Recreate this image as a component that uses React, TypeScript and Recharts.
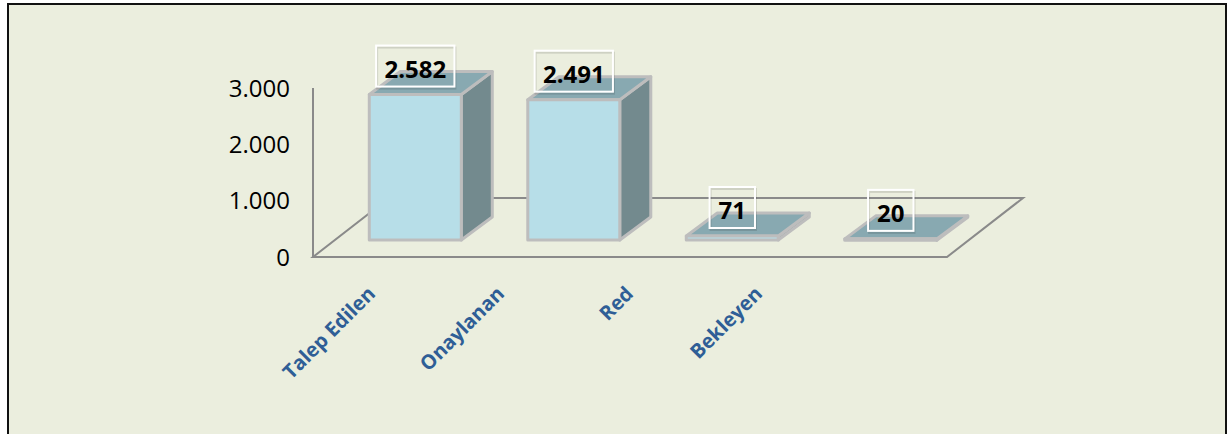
import { BarChart, Bar, XAxis, YAxis, ReferenceArea, LabelList } from "recharts";

// Veriler
const categories = ["Talep Edilen", "Onaylanan", "Red", "Bekleyen"];
const values = [2582, 2491, 71, 20];
const yTicks = [0, 1000, 2000, 3000];

const data = categories.map((name, i) => ({ name, value: values[i] }));

// 3B görünüm için derinlik (zemin) ve çubuk kaydırmaları
const FLOOR_DX = 76;
const FLOOR_DY = 59;
const BAR_OX = 23;
const BAR_OY = 17;
const BAR_DX = 31;
const BAR_DY = 23;

const fmt = (v: number) => String(v).replace(/\B(?=(\d{3})+(?!\d))/g, ".");

function Floor(props: any) {
  const { x, y, width, height } = props;
  const b = y + height;
  const pts = [
    [x, b],
    [x + width, b],
    [x + width + FLOOR_DX, b - FLOOR_DY],
    [x + FLOOR_DX, b - FLOOR_DY],
  ];
  return (
    <polygon
      points={pts.map((p) => p.join(",")).join(" ")}
      fill="none"
      stroke="#8a8a8a"
      strokeWidth={2}
    />
  );
}

function Box3D(props: any) {
  const { x, y, width, height } = props;
  const fx = x + BAR_OX;
  const fy = y - BAR_OY;
  const h = Math.max(height, 1.5);
  const w = width;
  const top = [
    [fx, fy],
    [fx + BAR_DX, fy - BAR_DY],
    [fx + w + BAR_DX, fy - BAR_DY],
    [fx + w, fy],
  ];
  const side = [
    [fx + w, fy],
    [fx + w + BAR_DX, fy - BAR_DY],
    [fx + w + BAR_DX, fy + h - BAR_DY],
    [fx + w, fy + h],
  ];
  const pts = (a: number[][]) => a.map((p) => p.join(",")).join(" ");
  return (
    <g stroke="#bdbdbd" strokeWidth={3} strokeLinejoin="round">
      <polygon points={pts(side)} fill="#738a8e" />
      <polygon points={pts(top)} fill="#88a9b1" />
      <rect x={fx} y={fy} width={w} height={h} fill="#b7dee8" />
    </g>
  );
}

function ValueLabel(props: any) {
  const { x, y, width, value } = props;
  const txt = fmt(Number(value));
  let tw = 0;
  for (const c of txt) tw += c === "." ? 6.5 : 13.2;
  const bw = tw + 19;
  const bh = 41;
  const cx = x + BAR_OX + width / 2;
  const bottom = y - BAR_OY - 8;
  return (
    <g>
      <rect x={cx - bw / 2 + 1} y={bottom - bh + 2} width={bw} height={bh} fill="none" stroke="rgba(0,0,0,0.12)" strokeWidth={2} />
      <rect x={cx - bw / 2} y={bottom - bh} width={bw} height={bh} fill="none" stroke="#ffffff" strokeWidth={2} />
      <text
        x={cx}
        y={bottom - bh / 2 + 2}
        textAnchor="middle"
        dominantBaseline="central"
        fontFamily="'Open Sans', sans-serif"
        fontWeight="bold"
        fontSize={24}
        fill="#000"
      >
        {txt}
      </text>
    </g>
  );
}

function CatTick(props: any) {
  const { x, y, payload } = props;
  const tx = x - 1;
  const ty = y + 38;
  return (
    <text
      x={tx}
      y={ty}
      transform={`rotate(-45 ${tx} ${ty})`}
      textAnchor="end"
      fontFamily="'Open Sans', sans-serif"
      fontWeight="bold"
      fontSize={20}
      fill="#2f5e96"
    >
      {payload.value}
    </text>
  );
}

export default function App() {
  return (
    <div style={{ position: "absolute", left: 0, top: 0, width: 1231, height: 434, overflow: "hidden" }}>
      <div
        style={{
          position: "absolute",
          left: 7,
          top: 3,
          width: 1220,
          height: 445,
          boxSizing: "border-box",
          border: "2px solid #111",
          background: "#ebeede",
        }}
      >
        <BarChart
          width={1216}
          height={430}
          data={data}
          margin={{ top: 83, right: 278, bottom: 78, left: 244 }}
          barCategoryGap="21%"
        >
          <ReferenceArea
            xAxisId="main"
            x1={categories[0]}
            x2={categories[categories.length - 1]}
            y1={0}
            y2={3000}
            shape={(p: any) => <Floor {...p} />}
          />
          <XAxis xAxisId="main" dataKey="name" hide />
          <XAxis
            xAxisId="lbl"
            dataKey="name"
            padding={{ left: 0, right: 118 }}
            axisLine={false}
            tickLine={false}
            tickSize={0}
            tickMargin={0}
            height={100}
            interval={0}
            tick={<CatTick />}
          />
          <YAxis
            domain={[0, 3000]}
            ticks={yTicks}
            width={60}
            tickLine={false}
            tickSize={0}
            tickMargin={23}
            axisLine={{ stroke: "#8a8a8a", strokeWidth: 2 }}
            tickFormatter={fmt}
            tick={{ fontFamily: "'Open Sans', sans-serif", fontSize: 24, fill: "#000" }}
          />
          <Bar xAxisId="main" dataKey="value" shape={<Box3D />} isAnimationActive={false}>
            <LabelList dataKey="value" content={<ValueLabel />} />
          </Bar>
        </BarChart>
      </div>
    </div>
  );
}
